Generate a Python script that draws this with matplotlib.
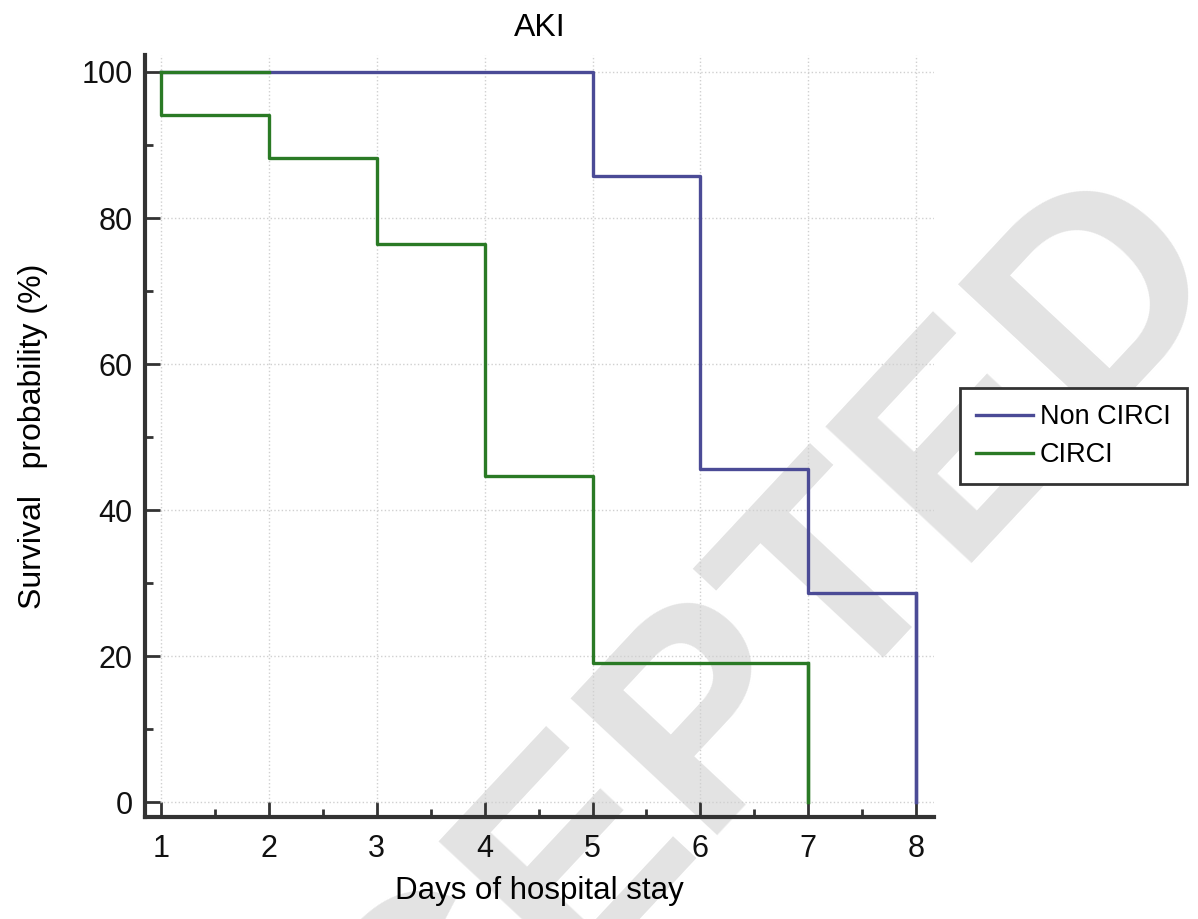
import matplotlib.pyplot as plt
from matplotlib.ticker import MultipleLocator

plt.rcParams['font.family'] = ['Liberation Sans', 'DejaVu Sans']

# Kaplan-Meier step values
non_circi_days = [2, 5, 6, 7, 8]
non_circi_surv = [100, 85.7, 45.7, 28.6, 0]
circi_days = [1, 2, 3, 4, 5, 7]
circi_surv = [94.1, 88.2, 76.5, 44.7, 19.1, 0]
x_ticks = [1, 2, 3, 4, 5, 6, 7, 8]
y_ticks = [0, 20, 40, 60, 80, 100]

blue = '#4b4b96'
green = '#2a7a25'

fig = plt.figure(figsize=(11.98, 9.19), dpi=100)
ax = fig.add_axes([0.121, 0.111, 0.659, 0.829])

# journal watermark
ax.text(0.527, 0.118, 'ACCEPTED', transform=fig.transFigure, fontsize=210,
        fontweight='bold', color='#e3e3e3', rotation=47, ha='center', va='center',
        rotation_mode='anchor', zorder=1.5, clip_on=False)

# blue curve: flat at 100 from day 1, then drops at each day
nx = [1] + non_circi_days
ny = [non_circi_surv[0]] + non_circi_surv
ax.step(nx, ny, where='post', color=blue, lw=2.4, label='Non CIRCI', zorder=3)
ax.plot([nx[-1], nx[-1]], [ny[-2], ny[-1]], color=blue, lw=2.4, zorder=3)

cx = [1] + circi_days
cy = [100] + circi_surv
ax.step(cx, cy, where='post', color=green, lw=2.4, label='CIRCI', zorder=4)
ax.plot([cx[-1], cx[-1]], [cy[-2], cy[-1]], color=green, lw=2.4, zorder=4)
ax.plot([1, 2], [100, 100], color=green, lw=2.4, zorder=4)

ax.set_xlim(0.85, 8.17)
ax.set_ylim(-2, 102.3)
ax.set_xticks(x_ticks)
ax.set_yticks(y_ticks)
ax.xaxis.set_minor_locator(MultipleLocator(0.5))
ax.yaxis.set_minor_locator(MultipleLocator(10))
ax.grid(True, which='major', color='#d0d0d0', lw=1, ls=':', zorder=1)

for s in ['top', 'right']:
    ax.spines[s].set_visible(False)
for s in ['left', 'bottom']:
    ax.spines[s].set_linewidth(3)
    ax.spines[s].set_color('#333333')

ax.tick_params(which='major', direction='in', length=11, width=2, color='#333333',
               labelsize=22, labelcolor='#111111')
ax.tick_params(axis='x', which='major', pad=12)
ax.tick_params(axis='y', which='major', pad=9)
ax.tick_params(which='minor', direction='in', length=5.5, width=2, color='#333333')

ax.set_title('AKI', fontsize=23, pad=13.5)
ax.set_xlabel('Days of hospital stay', fontsize=22.5, labelpad=9)
ax.set_ylabel('Survival   probability (%)', fontsize=23, labelpad=24)

leg = ax.legend(loc='upper left', bbox_to_anchor=(0.8013, 0.5778), bbox_transform=fig.transFigure,
                fontsize=19.5, frameon=True, fancybox=False, edgecolor='#333333',
                framealpha=1, handlelength=2.1, handletextpad=0.25, labelspacing=0.44,
                borderpad=0.6, borderaxespad=0)
leg.get_frame().set_linewidth(2)
leg.set_zorder(6)

fig.savefig('out.png', dpi=100)
